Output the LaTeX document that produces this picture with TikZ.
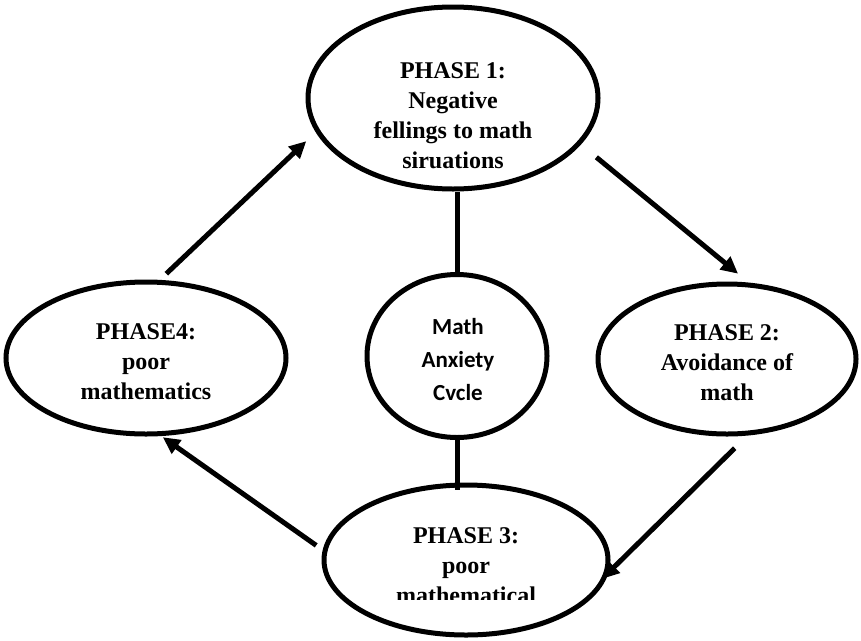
\documentclass[tikz,border=0pt]{standalone}
\usepackage{fontspec}
\setmainfont{Liberation Serif}
\newfontfamily\hubfont{Carlito}
\usepackage{tikz}
\usetikzlibrary{arrows.meta,calc,shapes.geometric}

\begin{document}
\begin{tikzpicture}[x=1pt, y=-1pt,
    phase/.style={ellipse, draw, line width=5pt, inner sep=0pt},
    caption/.style={align=center, inner sep=0pt, font=\bfseries\fontsize{24}{30}\selectfont},
    hubtext/.style={align=center, inner sep=0pt, font=\hubfont\bfseries\fontsize{23}{33}\selectfont},
    flow/.style={line width=5pt, -{Triangle[length=17pt, width=16pt]}},
    link/.style={line width=5pt}
]
\useasboundingbox (0,0) rectangle (861,640);
% phases round the cycle
\node[phase, minimum width=290pt, minimum height=182pt] (p1) at (453,98) {};
\node[phase, minimum width=258pt, minimum height=150pt] (p2) at (727,359) {};
\node[phase, minimum width=284pt, minimum height=150pt] (p3) at (466,560) {};
\node[phase, minimum width=280pt, minimum height=152pt] (p4) at (146,358) {};
\node[phase, minimum width=180pt, minimum height=163pt] (pc) at (457,356) {};
% texts
\node[caption] (t1) at ($(p1)+(0,18)$) {PHASE 1:\\Negative\\fellings to math\\siruations};
\node[caption] (t2) at ($(p2)+(0,4)$) {PHASE 2:\\Avoidance of\\math};
\node[caption] (t3) at ($(p3)+(0,6)$) {PHASE 3:\\poor\\mathematical};
\node[caption] (t4) at ($(p4)+(0,4)$) {PHASE4:\\poor\\mathematics};
\node[hubtext] (tc) at ($(pc)+(1,4)$) {Math\\Anxiety\\Cvcle};
\fill[white] ($(t3.south west)+(0,-4)$) rectangle ($(t3.south east)+(0,5)$);
% arrows
\draw[flow, shorten <=9pt, shorten >=13pt] (p4.80) -- (p1.194);
\draw[flow, shorten <=20pt, shorten >=14pt] (p1.-20) -- (p2.74);
\draw[flow, shorten <=18pt, shorten >=-9pt] (p2.-75) -- (p3.-5);
\draw[flow, shorten <=8pt, shorten >=2pt] (p3.176) -- (p4.-79);
% links to the centre
\draw[link] (pc.north) -- (pc.north |- p1.south);
\draw[link, shorten >=-7pt] (pc.south) -- (pc.south |- p3.north);
\end{tikzpicture}
\end{document}
